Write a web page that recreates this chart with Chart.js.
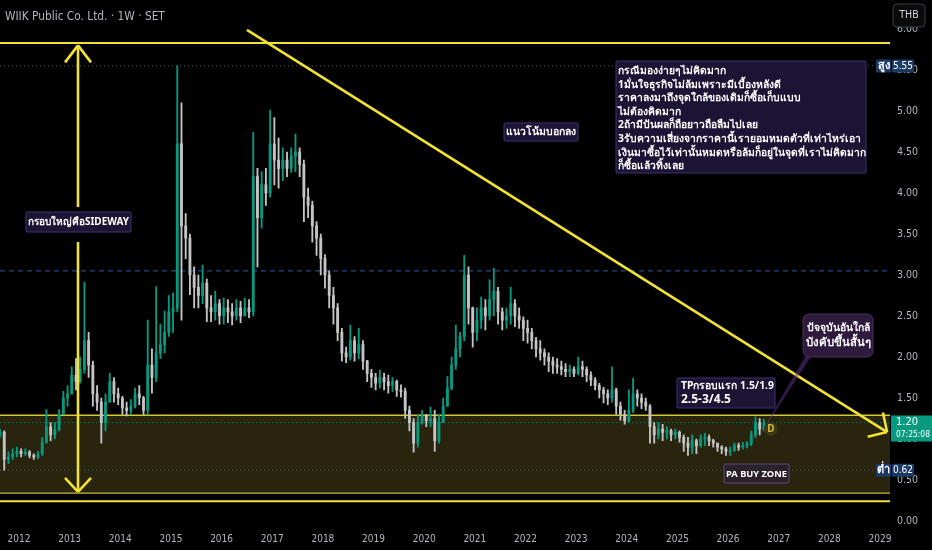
<!DOCTYPE html>
<html><head><meta charset="utf-8">
<script src="https://cdn.jsdelivr.net/npm/chart.js@4.4.1/dist/chart.umd.min.js"></script>
<style>html,body{margin:0;padding:0;background:#000;overflow:hidden}canvas{display:block}</style>
</head><body>
<canvas id="c" width="932" height="550"></canvas>
<script>
// ---------------- DATA (monthly approximation) ----------------
const startYear = 2011.625;           // time of first candle (decimal year)
const candlesPerYear = 12;
const firstOpen = 1.05;
const closes = [
1.08,0.75,0.78,0.82,0.85,0.82,0.84,0.80,0.78,0.82,
0.96,1.15,1.05,1.12,1.30,1.50,1.55,1.78,1.70,1.85,
2.20,1.90,1.55,1.45,1.20,1.45,1.70,1.55,1.50,1.38,
1.35,1.40,1.55,1.50,1.35,1.90,1.75,2.05,2.15,2.30,
2.55,2.60,4.60,3.60,3.45,3.00,2.85,2.75,2.90,2.60,
2.55,2.65,2.50,2.60,2.55,2.50,2.60,2.50,2.60,2.55,
4.20,3.70,4.10,4.00,4.60,4.40,4.30,4.40,4.30,4.45,
4.50,4.35,3.95,3.85,3.60,3.45,3.20,3.00,2.75,2.60,
2.30,2.05,2.00,2.20,2.05,2.15,1.95,1.80,1.75,1.68,
1.75,1.70,1.65,1.70,1.60,1.58,1.35,1.20,0.95,1.20,
1.28,1.22,1.25,0.98,1.20,1.40,1.62,1.90,2.10,2.25,
3.00,2.60,2.30,2.45,2.60,2.50,2.70,2.80,2.55,2.45,
2.50,2.65,2.50,2.45,2.35,2.30,2.20,2.10,2.05,2.00,
1.95,1.90,1.88,1.85,1.82,1.85,1.80,1.88,1.85,1.78,
1.72,1.65,1.60,1.55,1.50,1.60,1.40,1.30,1.22,1.35,
1.55,1.50,1.45,1.40,1.15,1.05,1.12,1.08,1.10,1.05,
1.08,1.02,0.95,0.90,0.98,0.92,1.00,1.02,0.98,0.95,
0.90,0.88,0.85,0.86,0.92,0.90,0.92,0.94,1.05,1.20,
1.12,1.20];
const highs = [
1.12,1.10,0.84,0.88,0.90,0.88,0.88,0.86,0.82,0.85,
1.02,1.36,1.20,1.20,1.36,1.58,1.65,1.88,1.98,2.00,
2.91,2.30,1.95,1.65,1.50,1.55,1.80,1.75,1.62,1.52,
1.45,1.48,1.62,1.65,1.52,2.45,2.10,2.86,2.40,2.56,
2.75,2.78,5.55,5.10,3.75,3.50,3.10,3.00,3.12,2.95,
2.75,2.80,2.70,2.72,2.70,2.65,2.70,2.68,2.72,2.70,
4.74,4.30,4.26,4.30,5.01,4.92,4.67,4.55,4.50,4.55,
4.72,4.55,4.40,4.06,3.90,3.65,3.50,3.25,3.05,2.85,
2.65,2.35,2.12,2.39,2.25,2.35,2.20,1.96,1.85,1.80,
1.84,1.80,1.78,1.75,1.72,1.66,1.62,1.40,1.25,1.30,
1.35,1.30,1.39,1.35,1.30,1.50,1.76,2.00,2.39,2.30,
3.24,3.10,2.61,2.60,2.73,2.70,2.94,3.08,2.85,2.60,
2.60,2.85,2.70,2.60,2.49,2.45,2.35,2.24,2.20,2.10,
2.05,2.00,1.98,1.95,1.92,1.90,1.88,2.00,1.95,1.88,
1.82,1.75,1.68,1.63,1.60,1.88,1.62,1.45,1.35,1.60,
1.74,1.60,1.55,1.50,1.42,1.20,1.20,1.18,1.15,1.12,
1.12,1.10,1.05,1.02,1.05,1.00,1.05,1.07,1.05,1.00,
0.95,0.92,0.90,0.90,0.95,0.95,0.96,0.97,1.10,1.27,
1.25,1.24];
const lows = [
1.02,0.62,0.70,0.75,0.78,0.78,0.80,0.77,0.75,0.76,
0.80,0.95,0.98,1.00,1.10,1.30,1.40,1.55,1.60,1.68,
1.80,1.75,1.40,1.35,0.95,1.10,1.45,1.45,1.42,1.30,
1.28,1.30,1.38,1.42,1.30,1.30,1.56,1.70,1.98,2.05,
2.25,2.30,2.55,2.45,3.20,2.76,2.60,2.60,2.65,2.43,
2.43,2.45,2.40,2.40,2.42,2.39,2.45,2.42,2.50,2.48,
2.50,3.10,3.57,3.85,3.95,4.10,4.06,4.15,4.20,4.25,
4.26,4.20,3.65,3.70,3.40,3.24,3.00,2.84,2.60,2.40,
2.20,1.95,1.93,1.96,1.95,1.98,1.85,1.70,1.63,1.60,
1.62,1.60,1.56,1.58,1.52,1.51,1.25,1.10,0.84,0.90,
1.18,1.15,1.15,0.85,0.95,1.20,1.40,1.60,1.85,2.00,
2.20,2.40,2.12,2.20,2.35,2.33,2.45,2.50,2.40,2.33,
2.35,2.40,2.37,2.35,2.20,2.17,2.10,2.00,1.96,1.90,
1.82,1.80,1.80,1.78,1.76,1.76,1.76,1.78,1.76,1.70,
1.65,1.60,1.50,1.44,1.42,1.45,1.30,1.23,1.18,1.20,
1.32,1.40,1.37,1.35,0.95,0.95,1.00,0.98,1.00,0.98,
1.00,0.96,0.85,0.80,0.82,0.82,0.90,0.92,0.92,0.90,
0.85,0.82,0.80,0.80,0.85,0.86,0.88,0.89,0.92,1.02,
1.05,1.10];
const yearTicks = [2012,2013,2014,2015,2016,2017,2018,2019,2020,2021,2022,2023,2024,2025,2026,2027,2028,2029];
const priceTicks = [0,0.5,1,1.5,2,2.5,3,3.5,4,4.5,5,5.5,6];
// price levels / drawings (data units)
const topLine = 5.83, zoneTop = 1.29, zoneBottom = 0.34, bottomLine = 0.24;
const highLevel = 5.55, lowLevel = 0.62, lastPrice = 1.20, blueLevel = 3.05;
const trendStart = [2016.50, 5.99], trendEnd = [2029.14, 1.085];
const sidewayX = 2013.165, sidewayTop = 5.80, sidewayBottom = 0.355;
const title = 'WIIK Public Co. Ltd. · 1W · SET';
const noteLines = [
 'กรณีมองง่ายๆไม่คิดมาก',
 '1มั่นใจธุรกิจไม่ล้มเพราะมีเบื้องหลังดี',
 'ราคาลงมาถึงจุดใกล้ของเดิมก็ซื้อเก็บแบบ',
 'ไม่ต้องคิดมาก',
 '2ถ้ามีปันผลก็ถือยาวถือลืมไปเลย',
 '3รับความเสี่ยงจากราคานี้เรายอมหมดตัวที่เท่าไหร่เอา',
 'เงินมาซื้อไว้เท่านั้นหมดหรือล้มก็อยู่ในจุดที่เราไม่คิดมาก',
 'ก็ซื้อแล้วทิ้งเลย'];

// ---------------- derived ----------------
const times = closes.map((_, i) => startYear + i / candlesPerYear);
const opens = closes.map((c, i) => i === 0 ? firstOpen : closes[i - 1]);
const UP = '#089981', DOWN = '#c4c4c4';
const colors = closes.map((c, i) => c >= opens[i] ? UP : DOWN);

const FONT_N = '"Liberation Sans Narrow","DejaVu Sans Condensed","Liberation Sans",sans-serif';
const FONT_T = '"Noto Sans","DejaVu Sans",sans-serif';
const AXIS_COL = '#b2b5be';

function rrect(ctx, x, y, w, h, r) {
  ctx.beginPath();
  ctx.moveTo(x + r, y); ctx.lineTo(x + w - r, y); ctx.quadraticCurveTo(x + w, y, x + w, y + r);
  ctx.lineTo(x + w, y + h - r); ctx.quadraticCurveTo(x + w, y + h, x + w - r, y + h);
  ctx.lineTo(x + r, y + h); ctx.quadraticCurveTo(x, y + h, x, y + h - r);
  ctx.lineTo(x, y + r); ctx.quadraticCurveTo(x, y, x + r, y); ctx.closePath();
}
function labelBox(ctx, x, y, w, h, fill, stroke, r) {
  rrect(ctx, x, y, w, h, r || 0);
  ctx.fillStyle = fill; ctx.fill();
  if (stroke) { ctx.strokeStyle = stroke; ctx.lineWidth = 1; ctx.stroke(); }
}
function fitText(ctx, text, x, y, maxW, size, weight, family, color, align) {
  ctx.font = `${weight} ${size}px ${family}`;
  let w = ctx.measureText(text).width;
  if (w > maxW) { size = size * maxW / w; ctx.font = `${weight} ${size}px ${family}`; }
  ctx.fillStyle = color; ctx.textAlign = align || 'left'; ctx.textBaseline = 'middle';
  ctx.fillText(text, x, y);
}
function line(ctx, x1, y1, x2, y2, col, w, dash) {
  ctx.save(); ctx.beginPath(); ctx.strokeStyle = col; ctx.lineWidth = w;
  ctx.setLineDash(dash || []); ctx.moveTo(x1, y1); ctx.lineTo(x2, y2); ctx.stroke(); ctx.restore();
}

const overlay = {
  id: 'overlay',
  beforeDatasetsDraw(chart) {
    const { ctx, chartArea: a, scales: { x: X, y: Y } } = chart;
    const R = a.right;
    ctx.save();
    ctx.fillStyle = '#28240e';
    ctx.fillRect(0, Y.getPixelForValue(zoneTop), R, Y.getPixelForValue(zoneBottom) - Y.getPixelForValue(zoneTop));
    line(ctx, 0, Y.getPixelForValue(zoneTop), R, Y.getPixelForValue(zoneTop), '#d8c830', 1.6);
    line(ctx, 0, Y.getPixelForValue(zoneBottom), R, Y.getPixelForValue(zoneBottom), '#c8b82a', 1.4);
    line(ctx, 0, Y.getPixelForValue(highLevel), R - 14, Y.getPixelForValue(highLevel), '#5d606b', 1, [1, 3]);
    line(ctx, 0, Y.getPixelForValue(lowLevel), R - 14, Y.getPixelForValue(lowLevel), '#5d606b', 1, [1, 3]);
    line(ctx, 0, Y.getPixelForValue(lastPrice), R, Y.getPixelForValue(lastPrice), '#0a7d68', 1, [1, 3]);
    line(ctx, 0, Y.getPixelForValue(blueLevel), R, Y.getPixelForValue(blueLevel), '#24488a', 1.2, [5, 4]);
    ctx.restore();
  },
  afterDatasetsDraw(chart) {
    const { ctx, chartArea: a, scales: { x: X, y: Y } } = chart;
    const R = a.right;
    const YEL = '#f2e233';
    ctx.save();
    line(ctx, 0, Y.getPixelForValue(topLine), R, Y.getPixelForValue(topLine), YEL, 2);
    line(ctx, 0, Y.getPixelForValue(bottomLine), R, Y.getPixelForValue(bottomLine), YEL, 2);
    const tx1 = X.getPixelForValue(trendStart[0]), ty1 = Y.getPixelForValue(trendStart[1]);
    const tx2 = X.getPixelForValue(trendEnd[0]), ty2 = Y.getPixelForValue(trendEnd[1]);
    line(ctx, tx1, ty1, tx2, ty2, YEL, 2.6);
    const ang = Math.atan2(ty1 - ty2, tx1 - tx2);
    [-0.8, 0.8].forEach(d => line(ctx, tx2, ty2, tx2 + 20 * Math.cos(ang + d), ty2 + 20 * Math.sin(ang + d), YEL, 2.6));
    const sx = X.getPixelForValue(sidewayX);
    const sTop = Y.getPixelForValue(sidewayTop), sBot = Y.getPixelForValue(sidewayBottom);
    line(ctx, sx, sTop, sx, 207, YEL, 2.6);
    line(ctx, sx, 242, sx, sBot, YEL, 2.6);
    line(ctx, sx, sTop, sx - 13, sTop + 17, YEL, 2.6); line(ctx, sx, sTop, sx + 13, sTop + 17, YEL, 2.6);
    line(ctx, sx, sBot, sx - 13, sBot - 14, YEL, 2.6); line(ctx, sx, sBot, sx + 13, sBot - 14, YEL, 2.6);
    const BOXF = '#1c1434', BOXS = '#3e3170';
    labelBox(ctx, 26, 212, 105, 20, BOXF, BOXS, 1);
    fitText(ctx, 'กรอบใหญ่คือSIDEWAY', 78.5, 222.5, 101, 13, 'bold', FONT_T, '#fff', 'center');
    labelBox(ctx, 504, 123, 74, 18, BOXF, BOXS, 1);
    fitText(ctx, 'แนวโน้มบอกลง', 541, 132.5, 70, 13, 'bold', FONT_T, '#fff', 'center');
    labelBox(ctx, 616, 61, 250, 112, BOXF, BOXS, 1);
    ctx.font = `bold 12px ${FONT_T}`;
    const mw = Math.max(...noteLines.map(s => ctx.measureText(s).width));
    const fs = Math.min(14.5, 12 * 244 / mw);
    noteLines.forEach((s, i) => fitText(ctx, s, 618, 71 + i * 13.6, 246, fs, 'bold', FONT_T, '#fff', 'left'));
    labelBox(ctx, 677, 378, 98, 30, BOXF, BOXS, 1);
    fitText(ctx, 'TPกรอบแรก 1.5/1.9', 681, 386, 92, 13, 'bold', FONT_T, '#fff', 'left');
    fitText(ctx, '2.5-3/4.5', 681, 400, 92, 12, 'bold', FONT_T, '#fff', 'left');
    labelBox(ctx, 724, 464, 65, 19, '#2a2228', '#5a4a78', 1);
    fitText(ctx, 'PA BUY ZONE', 756.5, 474, 61, 12, 'bold', FONT_T, '#fff', 'center');
    ctx.beginPath(); ctx.moveTo(806, 355); ctx.lineTo(812, 355); ctx.lineTo(755, 443); ctx.closePath();
    ctx.fillStyle = 'rgba(110,60,160,0.45)'; ctx.fill();
    labelBox(ctx, 803, 314, 70, 43, '#2e1a3c', '#4d2f62', 7);
    fitText(ctx, 'ปัจจุบันอันใกล้', 838, 328, 64, 13, 'bold', FONT_T, '#fff', 'center');
    fitText(ctx, 'บังคับขึ้นสั้นๆ', 838, 343, 64, 13, 'bold', FONT_T, '#fff', 'center');
    ctx.beginPath(); ctx.arc(771, 429, 7, 0, Math.PI * 2); ctx.fillStyle = '#3a3514'; ctx.fill();
    fitText(ctx, 'D', 771, 429.5, 10, 10, 'bold', FONT_T, '#d9b92c', 'center');
    ctx.restore();
  },
  afterDraw(chart) {
    const { ctx, scales: { y: Y } } = chart;
    ctx.save();
    const BLUE = '#1c3a66';
    [[highLevel, 'สูง'], [lowLevel, 'ต่ำ']].forEach(([v, t]) => {
      const py = Y.getPixelForValue(v);
      labelBox(ctx, 876, py - 6.5, 15, 13, BLUE, null, 1);
      labelBox(ctx, 892, py - 6.5, 22, 13, BLUE, null, 1);
      fitText(ctx, t, 883.5, py, 14, 11, 'bold', FONT_T, '#fff', 'center');
      fitText(ctx, v.toFixed(2), 903, py + 0.5, 20, 11, 'normal', FONT_N, '#fff', 'center');
    });
    const lp = Y.getPixelForValue(lastPrice);
    labelBox(ctx, 891, lp - 7, 41, 26, '#089981', null, 0);
    fitText(ctx, lastPrice.toFixed(2), 896, lp, 34, 11, 'normal', FONT_N, '#fff', 'left');
    fitText(ctx, '07:25:08', 896, lp + 12, 34, 11, 'normal', FONT_N, '#fff', 'left');
    labelBox(ctx, 893, 4, 32, 23, '#0a0a0a', '#3a3d45', 4);
    fitText(ctx, 'THB', 909, 15.5, 24, 10.5, 'normal', FONT_N, '#d1d4dc', 'center');
    fitText(ctx, title, 5, 17, 160, 12, 'normal', FONT_N, AXIS_COL, 'left');
    ctx.restore();
  }
};

const cfg = {
  type: 'bar',
  data: {
    datasets: [
      { label: 'wick', data: times.map((t, i) => ({ x: t, y: [lows[i], highs[i]] })),
        backgroundColor: colors, barThickness: 1.2, grouped: false, borderWidth: 0, borderSkipped: false, order: 2 },
      { label: 'body', data: times.map((t, i) => ({ x: t, y: [opens[i], closes[i]] })),
        backgroundColor: colors, barThickness: 2.2, grouped: false, borderWidth: 0, borderSkipped: false, minBarLength: 1, order: 1 }
    ]
  },
  options: {
    responsive: false, animation: false, devicePixelRatio: 1,
    layout: { padding: 0 },
    plugins: { legend: { display: false }, tooltip: { enabled: false } },
    scales: {
      x: {
        type: 'linear', offset: false, min: 2011.625, max: 2029.2, position: 'bottom',
        grid: { display: false, drawTicks: false }, border: { display: false },
        afterBuildTicks: s => { s.ticks = yearTicks.map(v => ({ value: v })); },
        afterFit: s => { s.height = 23; },
        ticks: { color: AXIS_COL, font: { family: FONT_N, size: 10 }, padding: 6, maxRotation: 0, autoSkip: false, callback: v => String(v) }
      },
      y: {
        type: 'linear', position: 'right', min: -0.07, max: 6.35,
        grid: { display: false, drawTicks: false }, border: { display: false },
        afterBuildTicks: s => { s.ticks = priceTicks.map(v => ({ value: v })); },
        afterFit: s => { s.width = 42; },
        ticks: { color: AXIS_COL, font: { family: FONT_N, size: 10.5 }, padding: 7, autoSkip: false, callback: v => v.toFixed(2) }
      }
    }
  },
  plugins: [overlay]
};
const chart = new Chart(document.getElementById('c'), cfg);
(function () {
  const a = chart.chartArea;
  const pxY = (521 - 29) / 6;
  chart.options.scales.y.min = 0 - (a.bottom - 521) / pxY;
  chart.options.scales.y.max = 6 + (29 - a.top) / pxY;
  const pxX = (880 - 19) / 17;
  chart.options.scales.x.min = 2012 - (19 - a.left) / pxX;
  chart.options.scales.x.max = 2029 + (a.right - 880) / pxX;
  chart.update('none');
})();
</script></body></html>
